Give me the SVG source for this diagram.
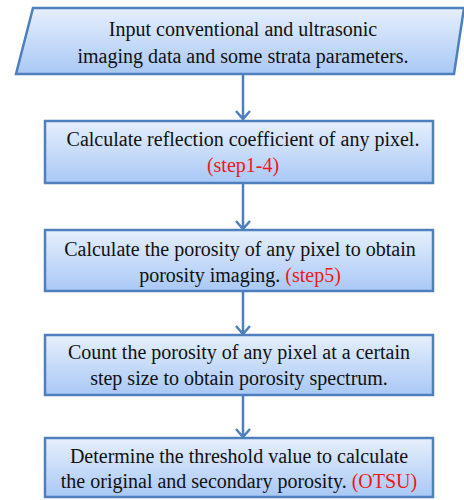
<svg xmlns="http://www.w3.org/2000/svg" width="464" height="500" viewBox="0 0 464 500">
<defs>
<linearGradient id="g" x1="0" y1="0" x2="0" y2="1">
<stop offset="0" stop-color="#e6effc"/>
<stop offset="1" stop-color="#a9c8f6"/>
</linearGradient>
<style>
.box{fill:url(#g);stroke:#4f7fbd;stroke-width:2.5}
.t{font-family:'Liberation Serif','Noto Serif','DejaVu Serif',serif;font-size:20px;fill:#111;text-anchor:middle}
.r{fill:#f01818}
.c{stroke:#4f7fbd;stroke-width:2.5;fill:none}
</style>
</defs>
<rect width="464" height="500" fill="#fff"/>
<g id="connectors">
<path class="c" d="M243 75V119M236 111L243 119L250 111"/>
<path class="c" d="M243 183V229M236 221L243 229L250 221"/>
<path class="c" d="M243 291V334M236 326L243 334L250 326"/>
<path class="c" d="M243 395V437M236 429L243 437L250 429"/>
</g>
<g id="n1">
<polygon class="box" points="33,8 464,8 454,74 16,74"/>
<text class="t" x="243" y="36">Input conventional and ultrasonic</text>
<text class="t" x="243" y="63">imaging data and some strata parameters.</text>
</g>
<g id="n2">
<rect class="box" x="45" y="121" width="388" height="62"/>
<text class="t" x="243" y="146">Calculate reflection coefficient of any pixel.</text>
<text class="t r" x="243" y="172">(step1-4)</text>
</g>
<g id="n3">
<rect class="box" x="45" y="230" width="388" height="61"/>
<text class="t" x="240" y="256">Calculate the porosity of any pixel to obtain</text>
<text class="t" x="240" y="282">porosity imaging. <tspan class="r">(step5)</tspan></text>
</g>
<g id="n4">
<rect class="box" x="45" y="335" width="388" height="60"/>
<text class="t" x="239" y="359">Count the porosity of any pixel at a certain</text>
<text class="t" x="239" y="385">step size to obtain porosity spectrum.</text>
</g>
<g id="n5">
<rect class="box" x="45" y="438" width="388" height="59"/>
<text class="t" x="239" y="463">Determine the threshold value to calculate</text>
<text class="t" x="239" y="488">the original and secondary porosity. <tspan class="r">(OTSU)</tspan></text>
</g>
</svg>
